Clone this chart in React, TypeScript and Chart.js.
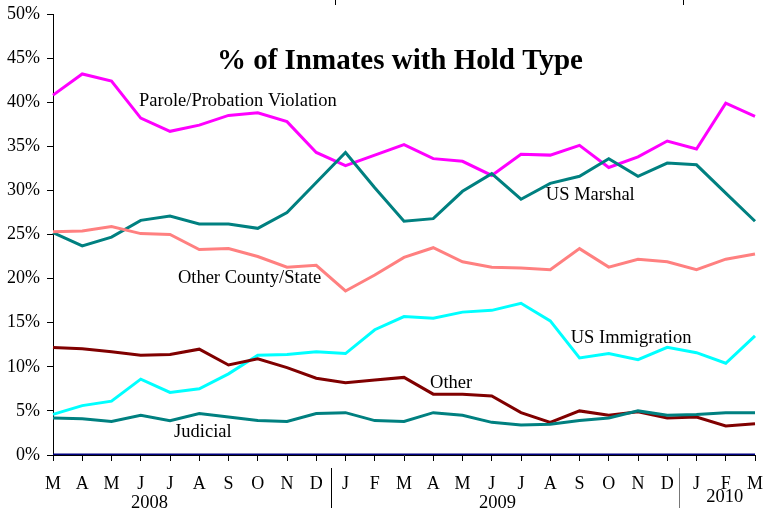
import React, { useEffect, useRef } from "react";
import { Chart, registerables } from "chart.js";

Chart.register(...registerables);

const months = ["M","A","M","J","J","A","S","O","N","D","J","F","M","A","M","J","J","A","S","O","N","D","J","F","M"];
const parole = [40.8,43.2,42.4,38.2,36.7,37.4,38.5,38.8,37.8,34.3,32.8,34.0,35.2,33.6,33.3,31.7,34.1,34.0,35.1,32.6,33.8,35.6,34.7,39.9,38.4];
const marshal = [25.2,23.7,24.7,26.6,27.1,26.2,26.2,25.7,27.5,30.9,34.3,30.3,26.5,26.8,29.9,31.9,29.0,30.8,31.6,33.6,31.6,33.1,32.9,29.7,26.5];
const otherCounty = [25.3,25.4,25.9,25.1,25.0,23.3,23.4,22.5,21.3,21.5,18.6,20.4,22.4,23.5,21.9,21.3,21.2,21.0,23.4,21.3,22.2,21.9,21.0,22.2,22.8];
const immigration = [4.6,5.6,6.1,8.6,7.1,7.5,9.2,11.3,11.4,11.7,11.5,14.2,15.7,15.5,16.2,16.4,17.2,15.2,11.0,11.5,10.8,12.2,11.6,10.4,13.5];
const other = [12.2,12.05,11.7,11.3,11.4,12.0,10.2,10.9,9.9,8.7,8.2,8.5,8.8,6.9,6.9,6.7,4.8,3.7,5.0,4.5,4.9,4.2,4.3,3.3,3.55];
const judicial = [4.2,4.1,3.8,4.5,3.9,4.7,4.3,3.9,3.8,4.7,4.8,3.9,3.8,4.8,4.5,3.7,3.4,3.5,3.9,4.2,5.0,4.5,4.6,4.8,4.8];
const baseline = [0,0,0,0,0,0,0,0,0,0,0,0,0,0,0,0,0,0,0,0,0,0,0,0,0];

const titleText = "% of Inmates with Hold Type";
// series labels: [text, x index (left edge), y value (middle)]
const seriesLabels: [string, number, number][] = [
  ["Parole/Probation Violation", 2.94, 40.1],
  ["US Marshal", 16.85, 29.5],
  ["Other County/State", 4.27, 20.0],
  ["US Immigration", 17.7, 13.3],
  ["Other", 12.89, 8.1],
  ["Judicial", 4.14, 2.6],
];
// year labels: [text, center index]
const years: [string, number][] = [
  ["2008", 3.3],
  ["2009", 15.2],
  ["2010", 22.97],
];
const yearBreaks = [9.5, 21.4];

const SERIF = "'Liberation Serif', 'Times New Roman', serif";

const annotPlugin = {
  id: "annot",
  afterDatasetsDraw(chart: any) {
    const ctx = chart.ctx;
    const xs = chart.scales.x;
    const ys = chart.scales.y;
    ctx.save();
    // title
    ctx.fillStyle = "#000";
    ctx.font = `bold 29px ${SERIF}`;
    ctx.textAlign = "center";
    ctx.textBaseline = "middle";
    ctx.fillText(titleText, xs.getPixelForValue(11.86), ys.getPixelForValue(44.6));
    // series labels
    ctx.font = `18.5px ${SERIF}`;
    ctx.textAlign = "left";
    for (const [t, xi, yv] of seriesLabels) {
      ctx.fillText(t, xs.getPixelForValue(xi), ys.getPixelForValue(yv));
    }
    // years
    ctx.font = `18.5px ${SERIF}`;
    ctx.textAlign = "center";
    ctx.textBaseline = "middle";
    for (const [t, xi] of years) {
      const yy = t === "2010" ? chart.height - 11 : chart.height - 5;
      ctx.fillText(t, xs.getPixelForValue(xi), yy);
    }
    // year separators
    ctx.lineWidth = 1;
    yearBreaks.forEach((b, i) => {
      const x = Math.round(xs.getPixelForValue(b)) + 0.5;
      ctx.strokeStyle = i === 0 ? "#000" : "#777";
      ctx.beginPath();
      ctx.moveTo(x, chart.height - 40);
      ctx.lineTo(x, chart.height);
      ctx.stroke();
      ctx.strokeStyle = "#000";
      ctx.beginPath();
      ctx.moveTo(x + 4, 0);
      ctx.lineTo(x + 4, 5);
      ctx.stroke();
    });
    ctx.restore();
  },
};

export default function App() {
  const ref = useRef<HTMLCanvasElement | null>(null);
  useEffect(() => {
    document.body.style.margin = "0";
    const mk = (label: string, data: number[], color: string, w = 3) => ({
      label,
      data,
      borderColor: color,
      backgroundColor: color,
      borderWidth: w,
      pointRadius: 0,
      tension: 0,
      fill: false,
    });
    const chart = new Chart(ref.current as HTMLCanvasElement, {
      type: "line",
      data: {
        labels: months,
        datasets: [
          mk("Baseline", baseline, "#000080", 3),
          mk("Judicial", judicial, "#008080"),
          mk("Other", other, "#800000"),
          mk("US Immigration", immigration, "#00FFFF"),
          mk("Other County/State", otherCounty, "#FF8080"),
          mk("US Marshal", marshal, "#008080"),
          mk("Parole/Probation Violation", parole, "#FF00FF"),
        ],
      },
      options: {
        responsive: false,
        animation: false,
        layout: { padding: { top: 14, right: 14, left: 0, bottom: 0 } },
        plugins: { legend: { display: false }, tooltip: { enabled: false }, title: { display: false } },
        scales: {
          x: {
            offset: false,
            grid: { display: true, drawOnChartArea: false, tickLength: 6, color: "#000", offset: false },
            border: { display: true, color: "#000", width: 1 },
            ticks: {
              autoSkip: false,
              maxRotation: 0,
              color: "#000",
              padding: 12,
              font: { family: SERIF, size: 18 },
            },
            afterFit: (s: any) => { s.height = 53; s.paddingLeft = 0; s.paddingRight = 0; },
          },
          y: {
            min: 0,
            max: 50,
            grid: { display: true, drawOnChartArea: false, tickLength: 6, color: "#000" },
            border: { display: true, color: "#000", width: 1 },
            ticks: {
              stepSize: 5,
              color: "#000",
              padding: 7,
              font: { family: SERIF, size: 18 },
              callback: (v: any) => v + "%",
            },
            afterFit: (s: any) => { s.width = 53; s.paddingTop = 0; s.paddingBottom = 0; },
          },
        },
      },
      plugins: [annotPlugin],
    });
    return () => chart.destroy();
  }, []);
  return (
    <div style={{ width: 769, height: 508, background: "#fff" }}>
      <canvas ref={ref} width={769} height={508} style={{ width: 769, height: 508, display: "block" }} />
    </div>
  );
}
